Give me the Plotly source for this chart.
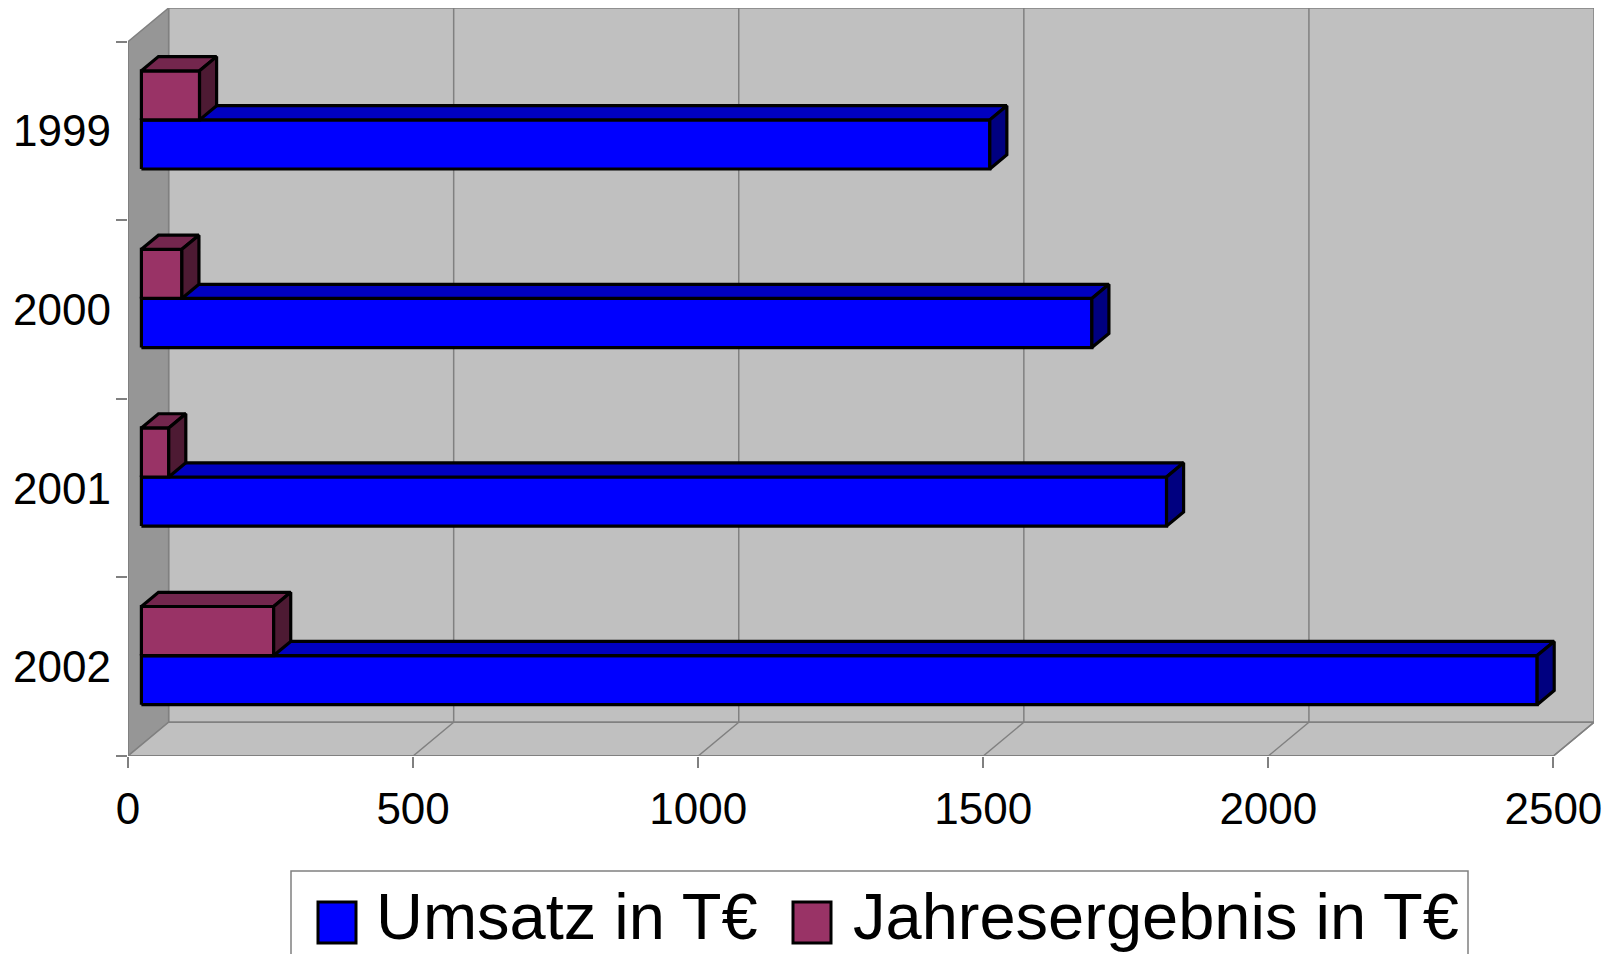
import plotly.graph_objects as go

years = ['1999', '2000', '2001', '2002']
umsatz = [1488, 1667, 1798, 2448]
ergebnis = [102, 71, 48, 232]
xticks = [0, 500, 1000, 1500, 2000, 2500]

XMAX = 2500
D = 71.2      # depth of the 3d box in x units
DY = 0.189    # depth of the 3d box in y units
NCAT = len(years)
BAR_W = 0.275
F1, F2 = 0.33, 0.75   # front / back depth of the bars

WALL = '#C0C0C0'
SIDEWALL = '#969696'
EDGE = '#808080'
FONT = 'Liberation Sans, Arial, sans-serif'

fig = go.Figure()


def poly(xs, ys, fill, line_color, width):
    fig.add_trace(go.Scatter(x=xs + [xs[0]], y=ys + [ys[0]], mode='lines', fill='toself',
                             fillcolor=fill, line=dict(color=line_color, width=width),
                             hoverinfo='skip', showlegend=False))


def line(xs, ys, color, width):
    fig.add_trace(go.Scatter(x=xs, y=ys, mode='lines', line=dict(color=color, width=width),
                             hoverinfo='skip', showlegend=False))


# walls and floor
poly([D, XMAX + D, XMAX + D, D], [DY, DY, NCAT + DY, NCAT + DY], WALL, EDGE, 1.5)
poly([0, D, D, 0], [0, DY, NCAT + DY, NCAT], SIDEWALL, EDGE, 1.5)
poly([0, XMAX, XMAX + D, D], [0, 0, DY, DY], WALL, EDGE, 1.5)
for v in xticks[1:-1]:
    line([v + D, v + D], [DY, NCAT + DY], EDGE, 1.5)
for v in xticks[1:]:
    line([v, v + D], [0, DY], EDGE, 1.5)
line([0, XMAX], [0, 0], EDGE, 2)
line([0, 0], [0, NCAT], EDGE, 2)


def bar3d(v, y0, y1, front, top, side):
    ax, ay = F1 * D, F1 * DY
    bx, by = F2 * D, F2 * DY
    poly([ax, v + ax, v + ax, ax], [y0 + ay, y0 + ay, y1 + ay, y1 + ay], front, 'black', 3.2)
    poly([ax, v + ax, v + bx, bx], [y1 + ay, y1 + ay, y1 + by, y1 + by], top, 'black', 3.2)
    poly([v + ax, v + bx, v + bx, v + ax], [y0 + ay, y0 + by, y1 + by, y1 + ay], side, 'black', 3.2)


for i, yr in enumerate(years):
    k = NCAT - 1 - i
    c = k + 0.5
    bar3d(umsatz[i], c - BAR_W, c, '#0000FF', '#0000C0', '#000080')
    bar3d(ergebnis[i], c, c + BAR_W, '#993366', '#73264D', '#4D1A33')

tickfont = dict(family=FONT, size=44, color='black')

fig.update_xaxes(range=[0, XMAX + D], tickvals=xticks, ticktext=[str(v) for v in xticks],
                 ticks='outside', ticklen=11, tickcolor=EDGE, tickwidth=1.5,
                 showgrid=False, zeroline=False, showline=False, tickfont=tickfont,
                 ticklabelstandoff=3, automargin=False)
fig.update_yaxes(range=[0, NCAT + DY], tickvals=[NCAT - 1 - i + 0.5 for i in range(NCAT)],
                 ticktext=years, ticks='', showgrid=False, zeroline=False, showline=False,
                 tickfont=tickfont, ticklabelstandoff=16, automargin=False,
                 minor=dict(tickvals=list(range(NCAT + 1)), ticks='outside', ticklen=11,
                            tickcolor=EDGE, tickwidth=1.5, showgrid=False))

# legend box (positions relative to the plot area, in page pixels)
PL, PW, PB, PH = 128, 1466, 756, 748
legfont = dict(family=FONT, size=65, color='black')
shapes = [
    dict(type='rect', xref='paper', yref='paper', x0=(291 - PL) / PW, x1=(1468 - PL) / PW,
         y0=(PB - 960) / PH, y1=(PB - 871) / PH, line=dict(color=EDGE, width=1.5),
         fillcolor='white', layer='below'),
    dict(type='rect', xref='paper', yref='paper', x0=(318 - PL) / PW, x1=(356 - PL) / PW,
         y0=(PB - 943) / PH, y1=(PB - 902) / PH, line=dict(color='black', width=3),
         fillcolor='#0000FF'),
    dict(type='rect', xref='paper', yref='paper', x0=(793 - PL) / PW, x1=(831 - PL) / PW,
         y0=(PB - 943) / PH, y1=(PB - 902) / PH, line=dict(color='black', width=3),
         fillcolor='#993366'),
]
annotations = [
    dict(text='Umsatz in T€', xref='paper', yref='paper', x=(374 - PL) / PW,
         y=(PB - 916) / PH, xanchor='left', yanchor='middle', showarrow=False, font=legfont),
    dict(text='Jahresergebnis in T€', xref='paper', yref='paper', x=(851 - PL) / PW,
         y=(PB - 916) / PH, xanchor='left', yanchor='middle', showarrow=False, font=legfont),
]

# the page body adds an 8px margin, so the figure is drawn 8px lower and to the right
fig.update_layout(width=1604, height=946, margin=dict(l=120, r=18, t=0, b=198),
                  paper_bgcolor='white', plot_bgcolor='white', showlegend=False,
                  shapes=shapes, annotations=annotations)

fig.write_html("out.html")
